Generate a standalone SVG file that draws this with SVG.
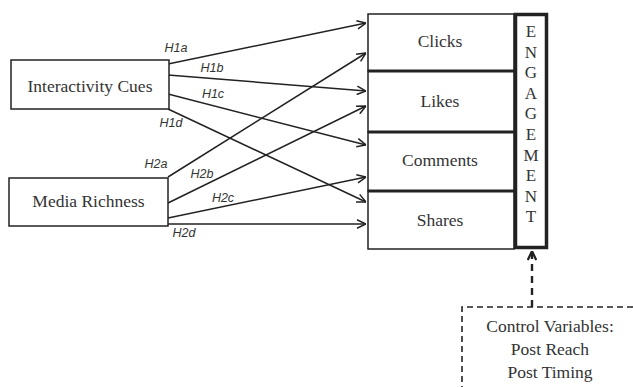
<svg xmlns="http://www.w3.org/2000/svg" width="633" height="387" viewBox="0 0 633 387">
<style>
.box{fill:#fff;stroke:#222;stroke-width:1.5}
.sep{stroke:#222;stroke-width:2.8}
.t{font-family:"Liberation Serif","Times New Roman",serif;font-size:17.5px;fill:#333;text-anchor:middle}
.lbl{font-family:"Liberation Sans",Arial,sans-serif;font-size:12.5px;font-style:italic;fill:#333;text-anchor:middle}
.c{fill:none;stroke:#222;stroke-width:1.5}
.dash{fill:none;stroke:#222;stroke-width:1.6;stroke-dasharray:6,4}
</style>
<defs>
<marker id="ah" viewBox="0 0 10 10" refX="10" refY="5" markerWidth="10" markerHeight="10" markerUnits="userSpaceOnUse" orient="auto">
<path d="M1,0.8 L10,5 L1,9.2" fill="none" stroke="#222" stroke-width="1.5"/>
</marker>
<marker id="ahd" viewBox="0 0 10 10" refX="10" refY="5" markerWidth="10" markerHeight="10" markerUnits="userSpaceOnUse" orient="auto">
<path d="M1,0.8 L10,5 L1,9.2" fill="none" stroke="#222" stroke-width="2.2"/>
</marker>
</defs>
<rect width="633" height="387" fill="#fff"/>
<g id="connectors">
<line class="c" x1="168" y1="64" x2="366" y2="23" marker-end="url(#ah)"/>
<line class="c" x1="168" y1="75" x2="366" y2="91" marker-end="url(#ah)"/>
<line class="c" x1="168" y1="94" x2="366" y2="145" marker-end="url(#ah)"/>
<line class="c" x1="168" y1="109" x2="366" y2="202" marker-end="url(#ah)"/>
<line class="c" x1="168" y1="177" x2="366" y2="53" marker-end="url(#ah)"/>
<line class="c" x1="168" y1="203" x2="366" y2="106" marker-end="url(#ah)"/>
<line class="c" x1="168" y1="218" x2="366" y2="177" marker-end="url(#ah)"/>
<line class="c" x1="168" y1="224" x2="366" y2="224" marker-end="url(#ah)"/>
<text class="lbl" x="176" y="52">H1a</text>
<text class="lbl" x="212" y="72">H1b</text>
<text class="lbl" x="213" y="98">H1c</text>
<text class="lbl" x="171" y="127">H1d</text>
<text class="lbl" x="156" y="168">H2a</text>
<text class="lbl" x="202" y="178">H2b</text>
<text class="lbl" x="223" y="202">H2c</text>
<text class="lbl" x="184" y="237">H2d</text>
<line x1="532" y1="307" x2="532" y2="251" fill="none" stroke="#222" stroke-width="2.4" stroke-dasharray="7,5" marker-end="url(#ahd)"/>
</g>
<g id="interactivity">
<rect class="box" x="11" y="60" width="158" height="49"/>
<text class="t" x="90" y="92">Interactivity Cues</text>
</g>
<g id="media">
<rect class="box" x="9" y="178" width="159" height="48"/>
<text class="t" x="88.5" y="207">Media Richness</text>
</g>
<g id="clicks">
<rect class="box" x="368" y="14" width="146" height="57"/>
<text class="t" x="440" y="47">Clicks</text>
</g>
<g id="likes">
<rect class="box" x="368" y="71" width="146" height="61"/>
<text class="t" x="440" y="107">Likes</text>
</g>
<g id="comments">
<rect class="box" x="368" y="132" width="146" height="59"/>
<text class="t" x="440" y="166">Comments</text>
</g>
<g id="shares">
<rect class="box" x="368" y="191" width="146" height="58"/>
<text class="t" x="440" y="226">Shares</text>
</g>
<line class="sep" x1="368" y1="71" x2="514" y2="71"/>
<line class="sep" x1="368" y1="132" x2="514" y2="132"/>
<line class="sep" x1="368" y1="191" x2="514" y2="191"/>
<g id="engagement">
<rect x="515.5" y="14.5" width="31" height="233" fill="#fff" stroke="#222" stroke-width="3.5"/>
<g class="t" style="font-size:17px">
<text x="531" y="37">E</text>
<text x="531" y="57.6">N</text>
<text x="531" y="78.2">G</text>
<text x="531" y="98.8">A</text>
<text x="531" y="119.4">G</text>
<text x="531" y="140">E</text>
<text x="531" y="160.6">M</text>
<text x="531" y="181.2">E</text>
<text x="531" y="201.8">N</text>
<text x="531" y="222.4">T</text>
</g>
</g>
<g id="control">
<path class="dash" d="M462,392 V307 H640"/>
<text class="t" x="550" y="332">Control Variables:</text>
<text class="t" x="550" y="355">Post Reach</text>
<text class="t" x="550" y="378">Post Timing</text>
</g>
</svg>
